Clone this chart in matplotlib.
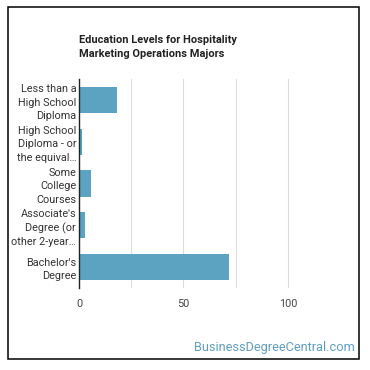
import matplotlib
matplotlib.use("Agg")
import matplotlib.pyplot as plt
from matplotlib.patches import Rectangle

plt.rcParams['font.family'] = ['Roboto', 'DejaVu Sans']

categories = ["Less than a\nHigh School\nDiploma",
              "High School\nDiploma - or\nthe equival…",
              "Some\nCollege\nCourses",
              "Associate's\nDegree (or\nother 2-year…",
              "Bachelor's\nDegree"]
values = [18.3, 1.6, 5.9, 3.0, 71.9]
xticks = [0, 25, 50, 75, 100]
xticklabels = ["0", "", "50", "", "100"]
title = "Education Levels for Hospitality\nMarketing Operations Majors"
watermark = "BusinessDegreeCentral.com"

W = H = 370
fig = plt.figure(figsize=(3.7, 3.7), dpi=100)
# axes: x 79..340, y 79..288 (pixels from top)
ax = fig.add_axes([79 / W, 1 - 288 / H, (340 - 79) / W, (288 - 79) / H])

ypos = list(range(len(categories)))
ax.barh(ypos, values, height=0.63, color='#5ba3c1', zorder=3)
ax.set_ylim(len(categories) - 0.5, -0.5)
ax.set_xlim(0, 125)
ax.set_yticks(ypos)
ax.set_yticklabels(categories, fontsize=7.8, color='#333333', linespacing=1.42)
ax.set_xticks(xticks)
ax.set_xticklabels(xticklabels, fontsize=7.8, color='#444444')
ax.tick_params(axis='y', length=0, pad=2)
ax.tick_params(axis='x', length=0, pad=8)
ax.grid(axis='x', color='#dddddd', linewidth=0.8, zorder=0)
for s in ['top', 'right', 'bottom']:
    ax.spines[s].set_visible(False)
ax.spines['left'].set_color('#222222')
ax.spines['left'].set_linewidth(1.0)
ax.spines['left'].set_zorder(4)

fig.text(79 / W, 1 - 35 / H, title, fontsize=7.9, fontweight='bold',
         color='#222222', ha='left', va='top', linespacing=1.55)
fig.text(355 / W, 1 - 351 / H, watermark, fontsize=9.2, color='#5f9ec4',
         ha='right', va='baseline')

fig.patches.append(Rectangle((7.5 / W, 1 - 358.5 / H), (359 - 7.5) / W, (358.5 - 7) / H,
                             transform=fig.transFigure, fill=False,
                             edgecolor='black', linewidth=1.1))

fig.savefig('out.png', dpi=100, facecolor='white')
